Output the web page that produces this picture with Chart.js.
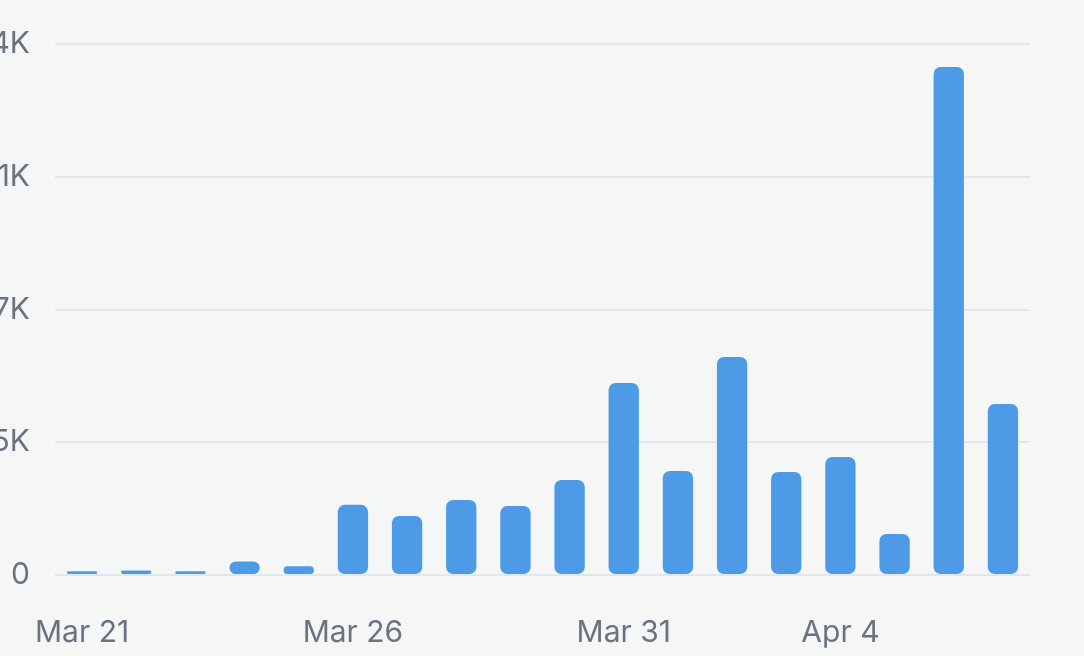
<!DOCTYPE html>
<html>
<head>
<script src="https://cdn.jsdelivr.net/npm/chart.js@4"></script>
<style>
  body { margin: 0; background: #f5f7f7; overflow: hidden; }
  #wrap { position: absolute; left: -40px; top: 0; width: 1124px; height: 656px; }
</style>
</head>
<body>
<div id="wrap"><canvas id="chart"></canvas></div>
<script>
var days = ['Mar 21','Mar 22','Mar 23','Mar 24','Mar 25','Mar 26','Mar 27','Mar 28','Mar 29','Mar 30',
	'Mar 31','Apr 1','Apr 2','Apr 3','Apr 4','Apr 5','Apr 6','Apr 7'];
var cases = [100, 120, 100, 360, 230, 1860, 1565, 1990, 1830, 2520, 5090, 2760, 5780, 2730, 3130, 1090, 13470, 4535];
var shownLabels = [0, 5, 10, 14];
var yTicks = [0, 3520, 7040, 10560, 14080];
var yLabels = ['0', '3.5K', '7K', '11K', '14K'];

var ctx = document.getElementById('chart').getContext('2d');
var chart = new Chart(ctx, {
	type: 'bar',
	data: {
		labels: days,
		datasets: [{
			data: cases,
			backgroundColor: '#4d9be6',
			borderRadius: 7,
			borderSkipped: false,
			barPercentage: 0.56,
			categoryPercentage: 1
		}]
	},
	options: {
		responsive: true,
		maintainAspectRatio: false,
		animation: false,
		layout: { padding: { top: 44, right: 54, bottom: 8, left: 0 } },
		plugins: { legend: { display: false }, tooltip: { enabled: false } },
		scales: {
			x: {
				afterFit: function(scale) { scale.height = 73; },
				grid: { display: false, drawTicks: false },
				border: { display: false },
				ticks: {
					autoSkip: false, maxRotation: 0, padding: 40,
					color: '#6b7280', font: { family: 'Inter', size: 30 },
					callback: function(v, i) { return shownLabels.indexOf(i) >= 0 ? days[i] : ''; }
				}
			},
			y: {
				min: 0, max: 14080,
				afterFit: function(scale) { scale.width = 95; },
				afterBuildTicks: function(scale) { scale.ticks = yTicks.map(function(v) { return { value: v }; }); },
				grid: { color: '#e3e7ec', lineWidth: 2, drawTicks: false },
				border: { display: false },
				ticks: {
					padding: 25, color: '#6b7280', font: { family: 'Inter', size: 30 },
					callback: function(v) { return yLabels[yTicks.indexOf(v)]; }
				}
			}
		}
	}
});
</script>
</body>
</html>
